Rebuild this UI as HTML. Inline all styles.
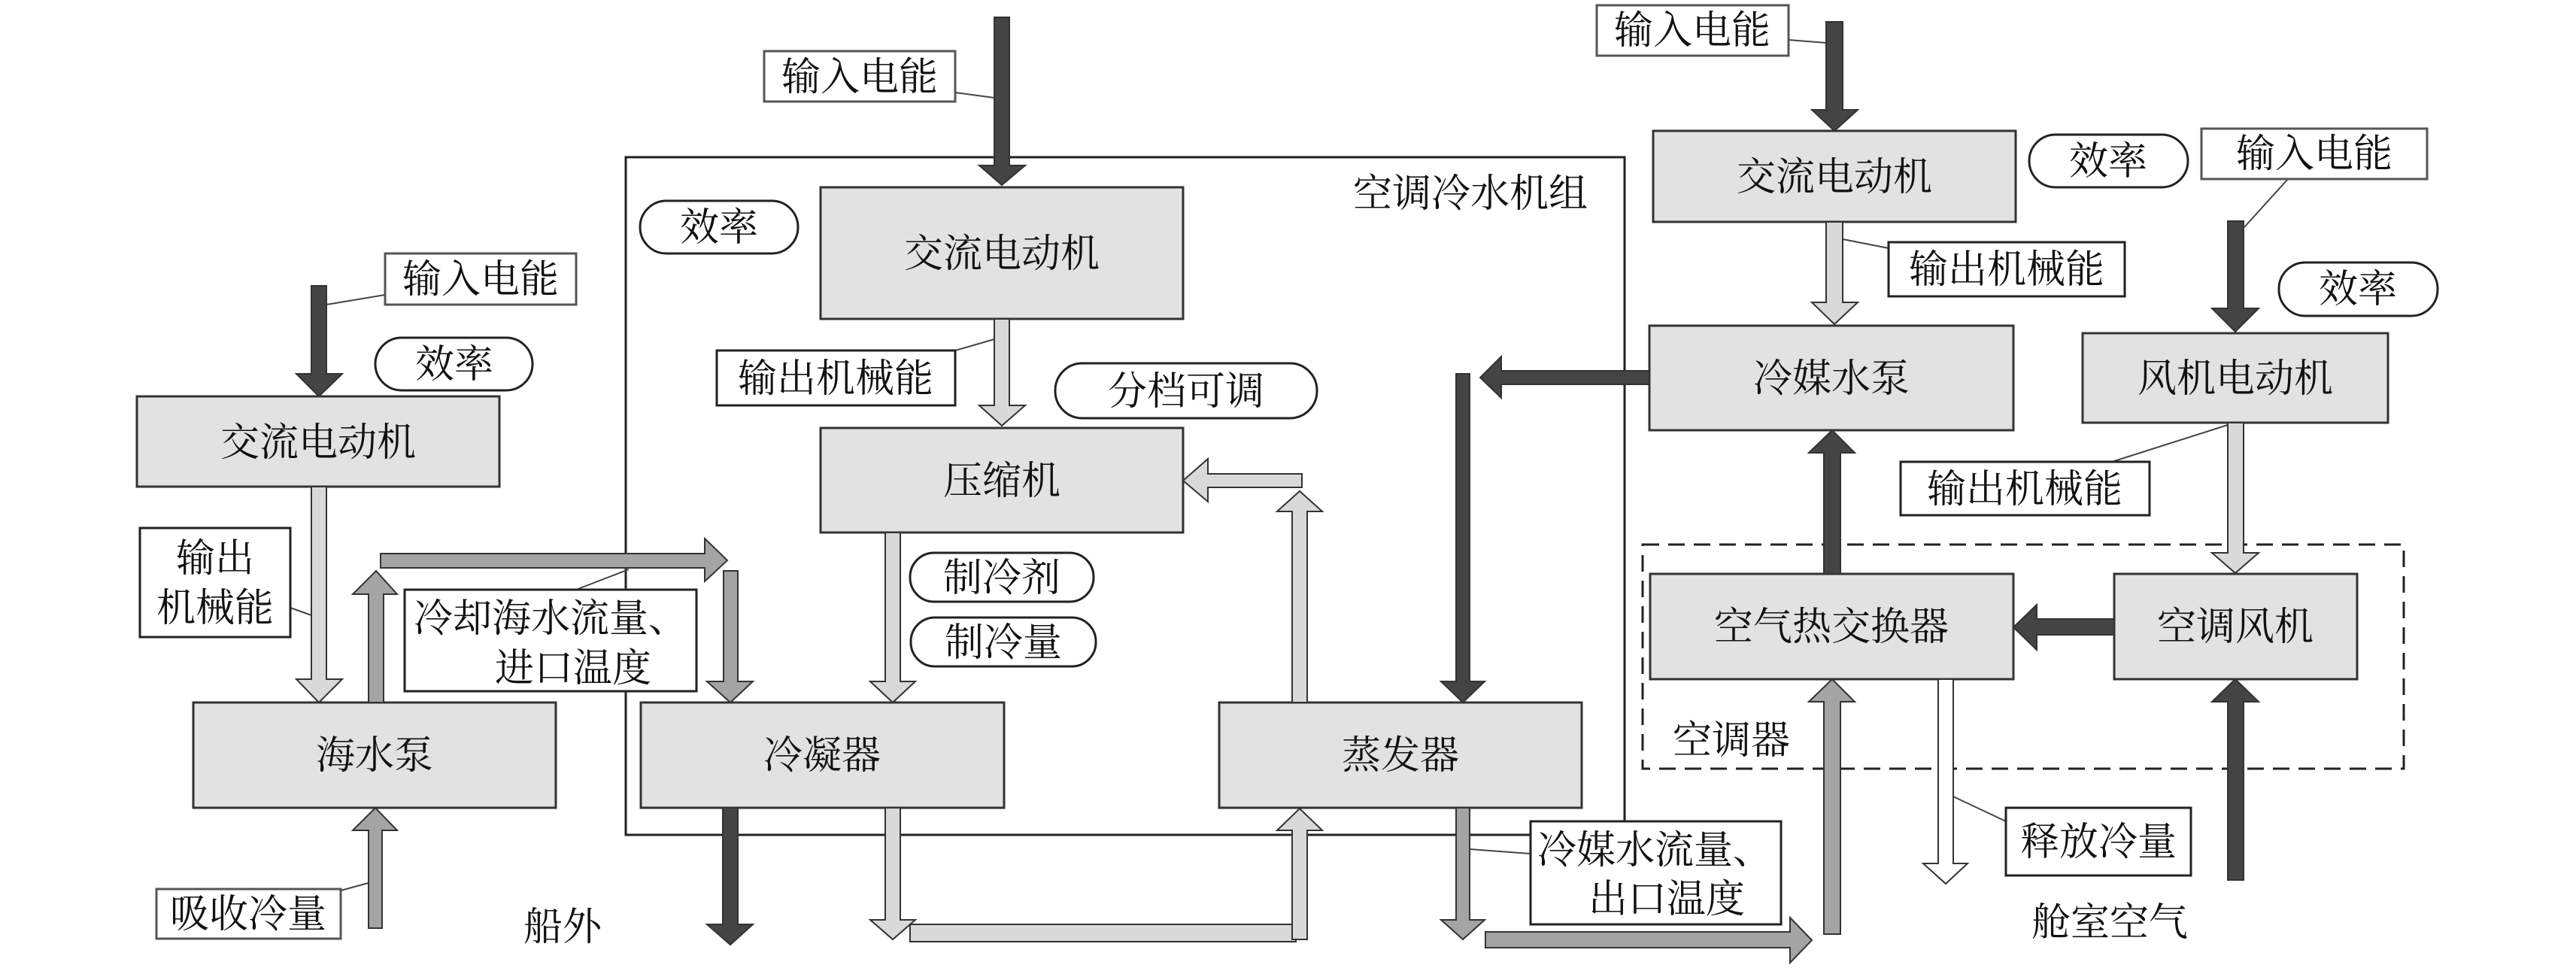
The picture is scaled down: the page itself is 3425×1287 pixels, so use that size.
<!DOCTYPE html>
<html><head><meta charset="utf-8"><style>
html,body{margin:0;padding:0;background:#fff}
svg{display:block}
text{font-family:"Liberation Serif","Noto Serif CJK SC",serif;font-size:52px;fill:#111}
.b{fill:#e2e2e2;stroke:#333;stroke-width:3}
.l{fill:#fff;stroke:#555;stroke-width:3}
.p{fill:#fff;stroke:#222;stroke-width:3}
.dk{fill:#444;stroke:#333;stroke-width:2}
.lt{fill:#d9d9d9;stroke:#333;stroke-width:2}
.md{fill:#a4a4a4;stroke:#333;stroke-width:2}
.wh{fill:#fff;stroke:#333;stroke-width:2}
.ln{stroke:#444;stroke-width:2;fill:none}
</style></head><body>
<svg width="3425" height="1287" viewBox="0 0 3425 1287" xmlns="http://www.w3.org/2000/svg">
<!-- frames -->
<rect x="832" y="209" width="1328" height="901" fill="none" stroke="#222" stroke-width="3"/>
<rect x="2184" y="724" width="1012" height="298" fill="none" stroke="#222" stroke-width="3" stroke-dasharray="22,12"/>

<!-- boxes -->
<rect class="b" x="182" y="527" width="482" height="120"/>
<rect class="b" x="257" y="934" width="482" height="140"/>
<rect class="b" x="1091" y="249" width="482" height="175"/>
<rect class="b" x="1091" y="569" width="482" height="139"/>
<rect class="b" x="852" y="934" width="483" height="140"/>
<rect class="b" x="1621" y="934" width="482" height="140"/>
<rect class="b" x="2198" y="174" width="482" height="121"/>
<rect class="b" x="2193" y="433" width="484" height="139"/>
<rect class="b" x="2769" y="443" width="406" height="119"/>
<rect class="b" x="2194" y="763" width="483" height="140"/>
<rect class="b" x="2811" y="763" width="323" height="140"/>

<text x="423" y="606" text-anchor="middle">交流电动机</text>
<text x="498" y="1022" text-anchor="middle">海水泵</text>
<text x="1332" y="355" text-anchor="middle">交流电动机</text>
<text x="1332" y="657" text-anchor="middle">压缩机</text>
<text x="1093" y="1022" text-anchor="middle">冷凝器</text>
<text x="1862" y="1022" text-anchor="middle">蒸发器</text>
<text x="2439" y="253" text-anchor="middle">交流电动机</text>
<text x="2435" y="521" text-anchor="middle">冷媒水泵</text>
<text x="2972" y="521" text-anchor="middle">风机电动机</text>
<text x="2435" y="851" text-anchor="middle">空气热交换器</text>
<text x="2972" y="851" text-anchor="middle">空调风机</text>

<!-- leader lines -->
<line class="ln" x1="434" y1="405" x2="512" y2="392"/>
<line class="ln" x1="386" y1="808" x2="414" y2="818"/>
<line class="ln" x1="766" y1="784" x2="836" y2="757"/>
<line class="ln" x1="453" y1="1184" x2="497" y2="1172"/>
<line class="ln" x1="1270" y1="123" x2="1322" y2="130"/>
<line class="ln" x1="1270" y1="466" x2="1322" y2="451"/>
<line class="ln" x1="2035" y1="1135" x2="1954" y2="1129"/>
<line class="ln" x1="2378" y1="53" x2="2428" y2="57"/>
<line class="ln" x1="2511" y1="330" x2="2450" y2="318"/>
<line class="ln" x1="3042" y1="238" x2="2984" y2="302"/>
<line class="ln" x1="2808" y1="614" x2="2962" y2="565"/>
<line class="ln" x1="2667" y1="1092" x2="2597" y2="1059"/>

<!-- arrows -->
<polygon class="dk" points="414,380 434,380 434,497 455,497 424,527 394,497 414,497"/>
<polygon class="lt" points="414,647 434,647 434,903 455,903 424,934 394,903 414,903"/>
<polygon class="md" points="490,934 510,934 510,790 528,790 500,759 469,790 490,790"/>
<polygon class="md" points="506,736 937,736 937,716 967,745 937,773 937,755 506,755"/>
<polygon class="md" points="962,759 981,759 981,906 1001,906 971,934 940,906 962,906"/>
<polygon class="md" points="490,1234 508,1234 508,1104 528,1104 499,1074 469,1104 490,1104"/>
<polygon class="dk" points="961,1074 981,1074 981,1229 1001,1229 971,1256 940,1229 961,1229"/>
<polygon class="dk" points="1322,23 1342,23 1342,220 1363,220 1332,246 1302,220 1322,220"/>
<polygon class="lt" points="1322,424 1342,424 1342,539 1363,539 1332,566 1302,539 1322,539"/>
<polygon class="lt" points="1177,708 1197,708 1197,906 1217,906 1187,934 1157,906 1177,906"/>
<polygon class="lt" points="1177,1074 1197,1074 1197,1223 1217,1223 1187,1249 1157,1223 1177,1223"/>
<rect class="lt" x="1210" y="1229" width="513" height="23"/>
<polygon class="lt" points="1718,1249 1738,1249 1738,1104 1758,1104 1728,1075 1698,1104 1718,1104"/>
<polygon class="lt" points="1718,934 1738,934 1738,680 1758,680 1728,653 1698,680 1718,680"/>
<polygon class="lt" points="1731,630 1731,648 1606,648 1606,667 1573,639 1606,610 1606,630"/>
<polygon class="dk" points="2193,493 2193,511 1996,511 1996,529 1968,502 1996,474 1996,493"/>
<polygon class="dk" points="1936,497 1954,497 1954,906 1974,906 1945,934 1916,906 1936,906"/>
<polygon class="md" points="1936,1074 1954,1074 1954,1223 1974,1223 1945,1249 1916,1223 1936,1223"/>
<polygon class="md" points="1975,1239 2380,1239 2380,1220 2409,1250 2380,1280 2380,1260 1975,1260"/>
<polygon class="dk" points="2428,29 2450,29 2450,146 2470,146 2439,174 2409,146 2428,146"/>
<polygon class="lt" points="2428,295 2450,295 2450,402 2470,402 2439,431 2409,402 2428,402"/>
<polygon class="dk" points="2425,763 2447,763 2447,602 2466,602 2436,572 2405,602 2425,602"/>
<polygon class="dk" points="2962,294 2983,294 2983,410 3003,410 2972,441 2941,410 2962,410"/>
<polygon class="lt" points="2962,562 2983,562 2983,735 3003,735 2972,762 2941,735 2962,735"/>
<polygon class="dk" points="2811,823 2811,844 2708,844 2708,864 2677,834 2708,804 2708,823"/>
<polygon class="md" points="2425,1242 2447,1242 2447,933 2466,933 2436,903 2405,933 2425,933"/>
<polygon class="wh" points="2577,903 2597,903 2597,1148 2616,1148 2587,1175 2557,1148 2577,1148"/>
<polygon class="dk" points="2962,1170 2983,1170 2983,933 3003,933 2972,903 2941,933 2962,933"/>

<!-- labels -->
<rect class="l" x="1016" y="68" width="254" height="67"/><text x="1143" y="120" text-anchor="middle">输入电能</text>
<rect class="l" x="512" y="337" width="254" height="68"/><text x="639" y="389" text-anchor="middle">输入电能</text>
<rect class="p" x="186" y="702" width="200" height="145"/><text x="286" y="760" text-anchor="middle">输出</text><text x="286" y="826" text-anchor="middle">机械能</text>
<rect class="p" x="538" y="784" width="388" height="135"/><text x="732" y="840" text-anchor="middle">冷却海水流量、</text><text x="762" y="906" text-anchor="middle">进口温度</text>
<rect class="l" x="208" y="1182" width="245" height="66"/><text x="330" y="1233" text-anchor="middle">吸收冷量</text>
<rect class="p" x="953" y="466" width="317" height="73"/><text x="1111" y="521" text-anchor="middle">输出机械能</text>
<rect class="p" x="2035" y="1092" width="333" height="137"/><text x="2200" y="1148" text-anchor="middle">冷媒水流量、</text><text x="2216" y="1213" text-anchor="middle">出口温度</text>
<rect class="l" x="2123" y="7" width="255" height="67"/><text x="2250" y="58" text-anchor="middle">输入电能</text>
<rect class="p" x="2511" y="322" width="314" height="72"/><text x="2668" y="376" text-anchor="middle">输出机械能</text>
<rect class="l" x="2927" y="171" width="300" height="67"/><text x="3077" y="222" text-anchor="middle">输入电能</text>
<rect class="p" x="2527" y="614" width="331" height="71"/><text x="2692" y="668" text-anchor="middle">输出机械能</text>
<rect class="p" x="2667" y="1074" width="246" height="90"/><text x="2790" y="1137" text-anchor="middle">释放冷量</text>

<!-- pills -->
<rect class="p" x="851" y="267" width="210" height="70" rx="35"/><text x="956" y="320" text-anchor="middle">效率</text>
<rect class="p" x="499" y="449" width="209" height="70" rx="35"/><text x="604" y="502" text-anchor="middle">效率</text>
<rect class="p" x="1403" y="483" width="348" height="73" rx="36"/><text x="1577" y="538" text-anchor="middle">分档可调</text>
<rect class="p" x="1210" y="735" width="244" height="65" rx="32"/><text x="1332" y="786" text-anchor="middle">制冷剂</text>
<rect class="p" x="1211" y="821" width="246" height="65" rx="32"/><text x="1334" y="872" text-anchor="middle">制冷量</text>
<rect class="p" x="2698" y="179" width="211" height="70" rx="35"/><text x="2803" y="232" text-anchor="middle">效率</text>
<rect class="p" x="3030" y="349" width="211" height="71" rx="35"/><text x="3135" y="402" text-anchor="middle">效率</text>

<!-- free text -->
<text x="1955" y="275" text-anchor="middle">空调冷水机组</text>
<text x="748" y="1250" text-anchor="middle">船外</text>
<text x="2302" y="1002" text-anchor="middle">空调器</text>
<text x="2805" y="1244" text-anchor="middle">舱室空气</text>
</svg>
</body></html>
